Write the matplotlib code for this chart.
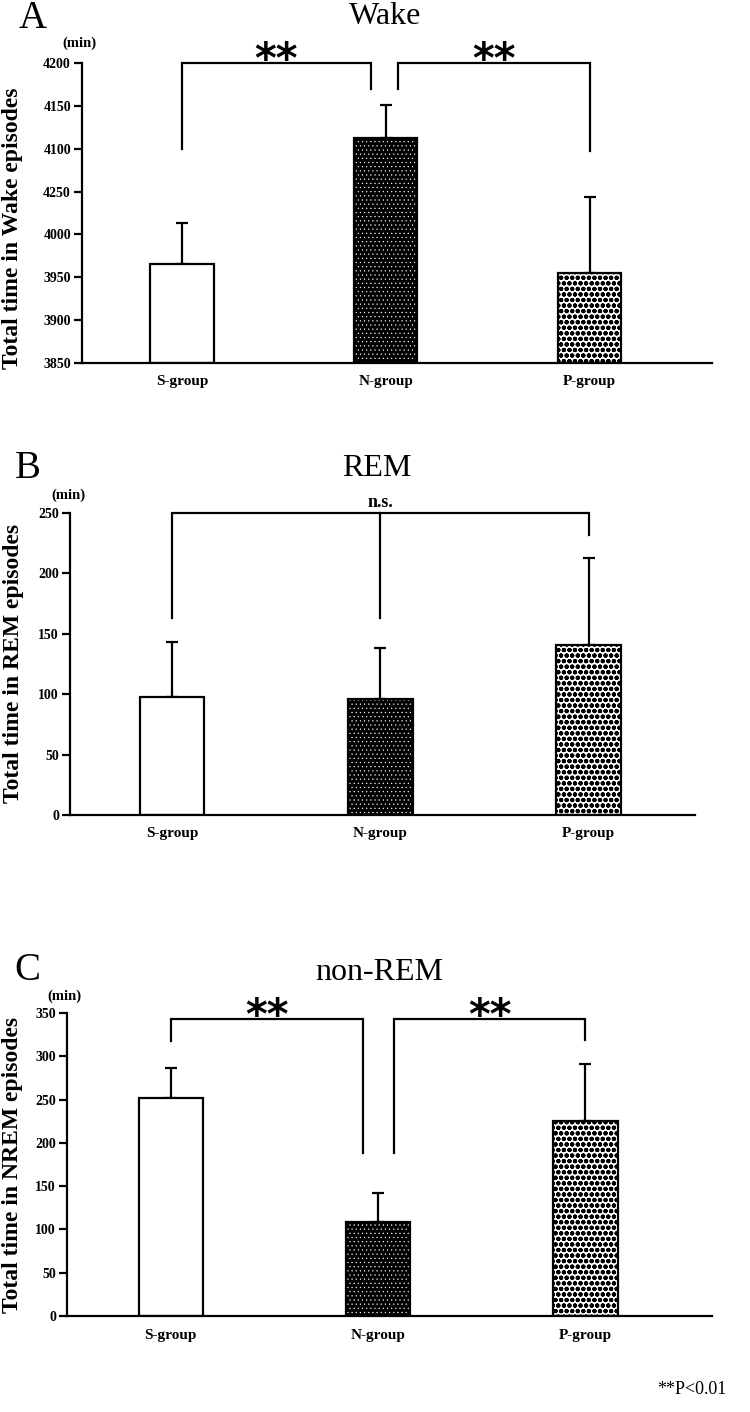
import matplotlib
matplotlib.use("Agg")
import matplotlib.pyplot as plt
import numpy as np

# ---------------- data ----------------
groups = ["S-group", "N-group", "P-group"]

wake_means = [3966, 4112, 3955]
wake_errs = [47, 39, 89]
wake_ticks = [3850, 3900, 3950, 4000, 4050, 4100, 4150, 4200]
wake_ticklabels = ["3850", "3900", "3950", "4000", "4250", "4100", "4150", "4200"]

rem_means = [98, 96, 141]
rem_errs = [45, 42, 72]
rem_ticks = [0, 50, 100, 150, 200, 250]

nrem_means = [252, 109, 225]
nrem_errs = [35, 33, 66]
nrem_ticks = [0, 50, 100, 150, 200, 250, 300, 350]

# brackets: (x_left, x_right, y_left_leg_bottom, y_right_leg_bottom, y_top, label)
wake_brackets = [(0, 0.927, 4100, 4170, 4200, "**"), (1.06, 2, 4170, 4097, 4200, "**")]
rem_brackets = [(0, 2, 163, 232, 250, "n.s.")]
rem_mid_leg = (1, 163)
nrem_brackets = [(0, 0.925, 318, 188, 343, "**"), (1.075, 2, 188, 319, 343, "**")]

# ---------------- figure ----------------
W, H = 750, 1412
plt.rcParams['font.family'] = ['Liberation Serif', 'DejaVu Serif']
fig = plt.figure(figsize=(W / 100, H / 100), dpi=100)

def rect(l, r, top, bottom):
    return [l / W, 1 - bottom / H, (r - l) / W, (bottom - top) / H]

def ftext(x, y, s, **kw):
    fig.text(x / W, 1 - y / H, s, **kw)

LW = 1.6

def hatched_bar(ax, x, h, bw, bottom, face, hcolor, hatch, hlw):
    with plt.rc_context({'hatch.linewidth': hlw}):
        b = ax.bar(x, h, bw, bottom=bottom, color=face, edgecolor=hcolor,
                   hatch=hatch, linewidth=0, zorder=2)
        for p in b:
            if hasattr(p, 'set_hatch_linewidth'):
                p.set_hatch_linewidth(hlw)
    ax.bar(x, h, bw, bottom=bottom, fill=False, edgecolor='black', linewidth=LW, zorder=3)

def draw_panel(ax, means, errs, ylim, ticks, ticklabels, xlim):
    x = np.arange(len(means))
    bw = 0.31
    bottom = ylim[0]
    heights = [m - bottom for m in means]
    # S: plain white
    ax.bar(x[0], heights[0], bw, bottom=bottom, color='white', edgecolor='black', linewidth=LW, zorder=2)
    # N: black with fine white dots
    hatched_bar(ax, x[1], heights[1], bw, bottom, 'black', 'white', '....', 0.35)
    # P: white with dense black blobs
    hatched_bar(ax, x[2], heights[2], bw, bottom, 'white', 'black', 'ooo', 1.45)
    # error bars (upper only)
    ax.errorbar(x, means, yerr=[np.zeros(len(errs)), errs], fmt='none', ecolor='black',
                elinewidth=LW, capsize=4.5, capthick=LW, zorder=1)
    ax.set_ylim(*ylim)
    ax.set_xlim(*xlim)
    ax.set_yticks(ticks)
    ax.set_yticklabels(ticklabels, fontsize=10, fontweight='bold')
    ax.set_xticks(x)
    ax.set_xticklabels(groups, fontsize=11, fontweight='bold')
    ax.tick_params(axis='x', length=0, pad=9)
    ax.tick_params(axis='y', direction='out', length=6, width=LW, pad=2)
    for s in ['top', 'right']:
        ax.spines[s].set_visible(False)
    for s in ['left', 'bottom']:
        ax.spines[s].set_linewidth(LW)
    ax.patch.set_alpha(0)

def draw_bracket(ax, xl, xr, yl, yr, yt, label, fs, offset, fam, weight):
    ax.plot([xl, xl, xr, xr], [yl, yt, yt, yr], color='black', lw=LW, clip_on=False,
            solid_joinstyle='miter', zorder=4)
    ax.annotate(label, xy=((xl + xr) / 2, yt), xytext=(0, offset), textcoords='offset points',
                ha='center', va='baseline', fontsize=fs, family=fam, fontweight=weight,
                annotation_clip=False)

STAR_FAM = ['DejaVu Sans']

# Panel A
axA = fig.add_axes(rect(82, 712, 63, 363))
draw_panel(axA, wake_means, wake_errs, (3850, 4200), wake_ticks, wake_ticklabels, (-0.49, 2.6))
for br in wake_brackets:
    draw_bracket(axA, *br[:5], br[5], 30, -7, STAR_FAM, 'bold')

# Panel B
axB = fig.add_axes(rect(70, 695, 513, 815))
draw_panel(axB, rem_means, rem_errs, (0, 250), rem_ticks, [str(t) for t in rem_ticks], (-0.49, 2.51))
for br in rem_brackets:
    draw_bracket(axB, *br[:5], br[5], 13, 4, ['Liberation Serif'], 'bold')
axB.plot([rem_mid_leg[0], rem_mid_leg[0]], [rem_brackets[0][4], rem_mid_leg[1]], color='black',
         lw=LW, clip_on=False, zorder=4)

# Panel C
axC = fig.add_axes(rect(67, 712, 1013, 1316))
draw_panel(axC, nrem_means, nrem_errs, (0, 350), nrem_ticks, [str(t) for t in nrem_ticks], (-0.50, 2.61))
for br in nrem_brackets:
    draw_bracket(axC, *br[:5], br[5], 30, -7, STAR_FAM, 'bold')

# Titles, panel letters, units, y-labels
ftext(385, 16, "Wake", fontsize=23, ha='center', va='center')
ftext(377, 469, "REM", fontsize=23, ha='center', va='center')
ftext(379, 972, "non-REM", fontsize=23, ha='center', va='center')

ftext(33, 19, "A", fontsize=28, ha='center', va='center')
ftext(28, 469, "B", fontsize=28, ha='center', va='center')
ftext(27, 971, "C", fontsize=28, ha='center', va='center')

ftext(79, 43, "(min)", fontsize=10.5, ha='center', va='center', fontweight='bold')
ftext(68, 495, "(min)", fontsize=10.5, ha='center', va='center', fontweight='bold')
ftext(64, 996, "(min)", fontsize=10.5, ha='center', va='center', fontweight='bold')

ftext(13, 228, "Total time in Wake episodes", fontsize=17, rotation=90, ha='center', va='center', fontweight='bold')
ftext(14, 663, "Total time in REM episodes", fontsize=17, rotation=90, ha='center', va='center', fontweight='bold')
ftext(13, 1165, "Total time in NREM episodes", fontsize=17, rotation=90, ha='center', va='center', fontweight='bold')

ftext(727, 1389, "**P<0.01", fontsize=13, ha='right', va='center')

fig.savefig("out.png", dpi=100, facecolor='white')
